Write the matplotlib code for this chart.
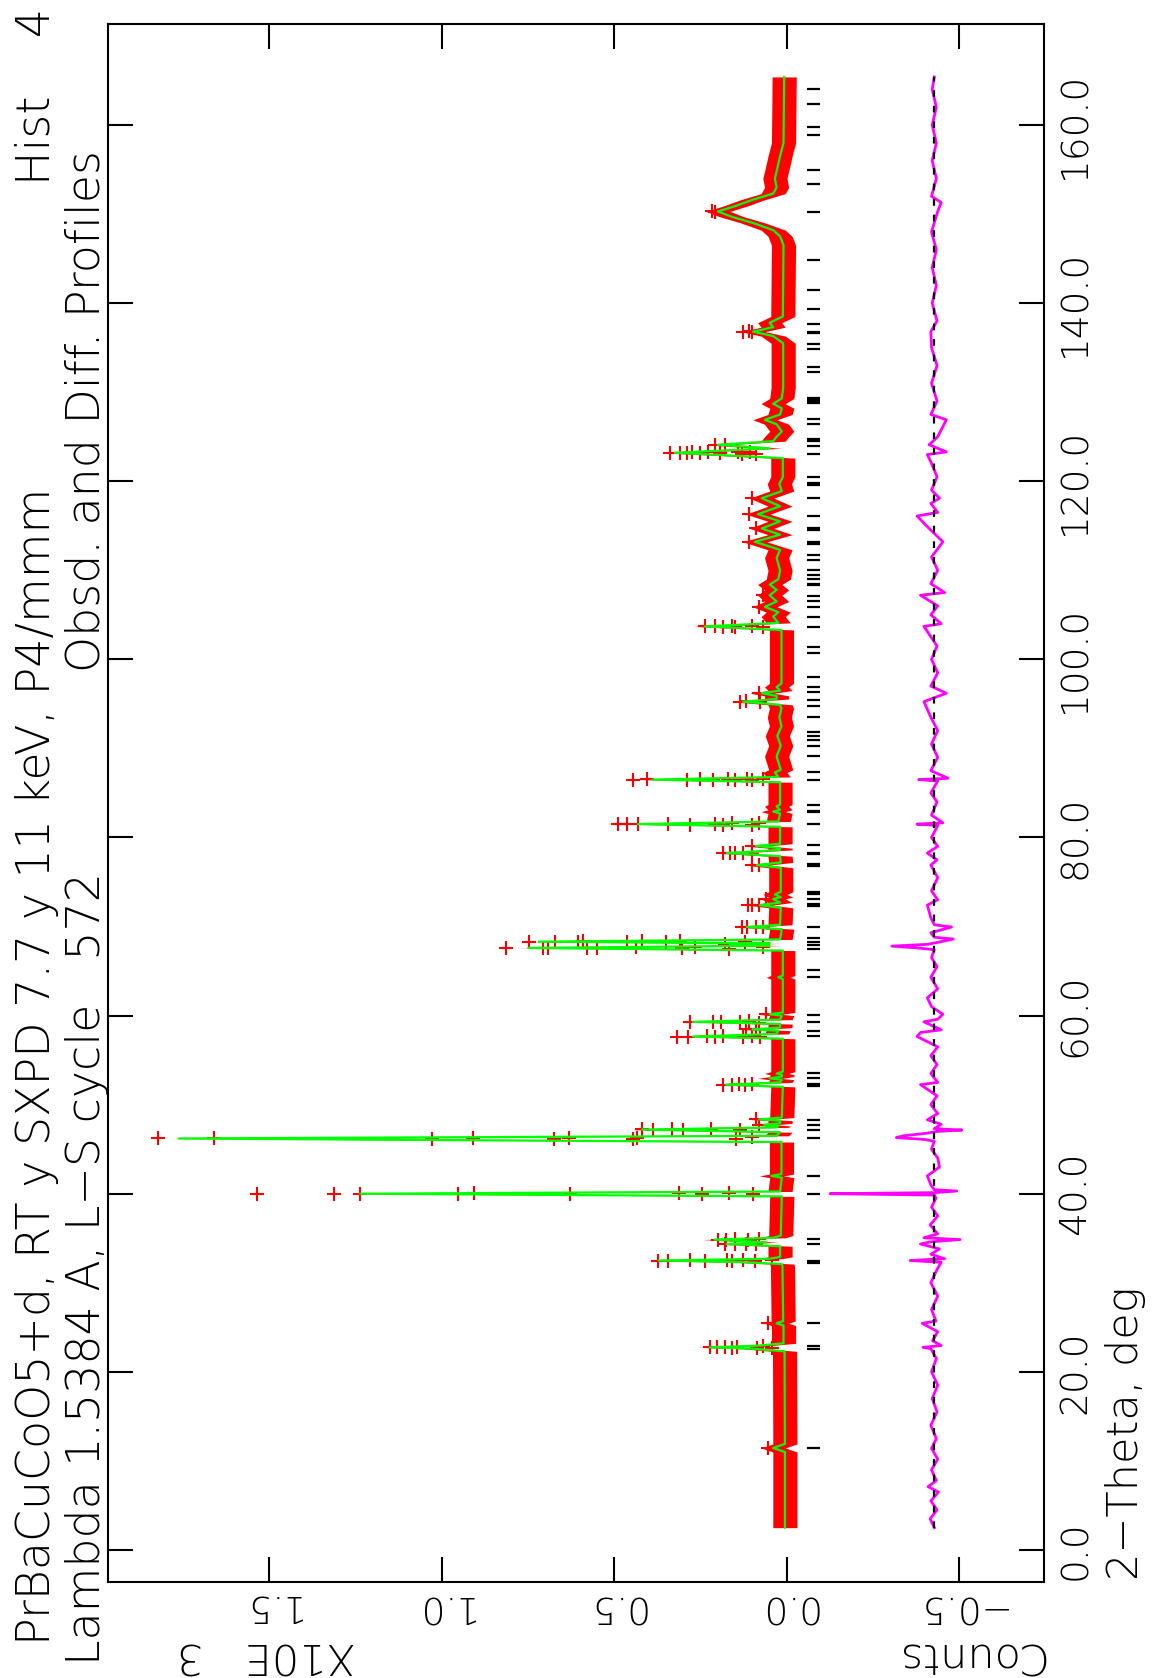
import matplotlib
matplotlib.use("Agg")
import matplotlib.pyplot as plt
import numpy as np

# ---------------- data (2-theta in deg, counts in units of 10^3) ----------------
calc_theta = [2.5, 11.0, 11.45, 11.9, 22.3, 22.6, 22.75, 22.95, 23.2, 25.2, 25.45, 25.7,
              31.9, 32.1, 32.3, 32.5, 32.7, 32.9, 34.1, 34.35, 34.55, 34.85, 35.05, 35.3,
              39.7, 40.0, 40.25, 41.8, 42.0, 42.2, 45.8, 46.2, 46.5, 46.9, 47.2, 47.45,
              47.6, 47.75, 47.9, 48.2, 48.35, 48.55, 52.0, 52.25, 52.5, 52.8, 52.95, 53.15,
              53.35, 53.5, 53.7, 57.4, 57.65, 57.95, 58.3, 58.45, 58.65, 59.05, 59.3, 59.55,
              60.0, 60.15, 60.35, 64.1, 64.3, 64.5, 67.3, 67.6, 67.85, 68.0, 68.1, 68.3,
              68.55, 69.7, 69.95, 70.2, 72.1, 72.4, 72.7, 73.1, 73.3, 73.6, 73.9, 76.6,
              76.9, 77.2, 77.9, 78.25, 78.6, 78.8, 79.05, 79.3, 81.2, 81.5, 81.8, 82.7,
              82.9, 83.1, 83.5, 83.7, 86.2, 86.5, 86.8, 87.3, 87.6, 89.1, 90.3, 91.4,
              92.5, 93.5, 94.5, 94.9, 95.25, 95.55, 95.9, 96.2, 96.5, 96.9, 97.3, 103.3,
              103.7, 104.1, 104.8, 105.3, 105.9, 106.5, 107.2, 107.8, 108.4, 109.0, 110.0, 111.4,
              112.3, 113.2, 114.0, 114.7, 115.5, 116.3, 117.2, 118.1, 118.9, 119.7, 120.5, 122.6,
              123.2, 123.7, 124.1, 124.5, 125.0, 125.6, 126.4, 126.9, 127.5, 128.2, 128.7, 129.3,
              130.5, 135.5, 136.3, 136.8, 137.3, 137.8, 138.5, 146.5, 147.5, 148.2, 149.0, 149.7,
              150.3, 150.9, 151.6, 152.3, 153.0, 154.0, 154.8, 156.5, 158.0, 165.4]
calc_counts = [0.006, 0.006, 0.040, 0.006, 0.007, 0.10, 0.223, 0.08, 0.010, 0.010, 0.030, 0.011,
               0.013, 0.015, 0.12, 0.372, 0.05, 0.02, 0.02, 0.175, 0.06, 0.21, 0.04, 0.018,
               0.015, 1.237, 0.02, 0.015, 0.045, 0.016, 0.016, 1.763, 0.03, 0.02, 0.42, 0.03,
               0.025, 0.066, 0.02, 0.02, 0.08, 0.015, 0.012, 0.177, 0.02, 0.015, 0.05, 0.015,
               0.014, 0.03, 0.012, 0.012, 0.272, 0.03, 0.025, 0.10, 0.02, 0.02, 0.272, 0.02,
               0.015, 0.05, 0.012, 0.012, 0.025, 0.012, 0.012, 0.75, 0.05, 0.165, 0.05, 0.72,
               0.02, 0.015, 0.116, 0.02, 0.018, 0.078, 0.02, 0.04, 0.018, 0.035, 0.018, 0.018,
               0.087, 0.018, 0.02, 0.174, 0.02, 0.02, 0.09, 0.02, 0.02, 0.432, 0.025, 0.02,
               0.04, 0.02, 0.03, 0.02, 0.02, 0.39, 0.025, 0.035, 0.018, 0.03, 0.018, 0.028,
               0.016, 0.022, 0.016, 0.02, 0.127, 0.03, 0.03, 0.073, 0.02, 0.03, 0.016, 0.016,
               0.238, 0.025, 0.04, 0.025, 0.064, 0.03, 0.05, 0.03, 0.05, 0.025, 0.02, 0.03,
               0.02, 0.093, 0.02, 0.073, 0.02, 0.084, 0.02, 0.073, 0.015, 0.022, 0.012, 0.012,
               0.325, 0.05, 0.20, 0.04, 0.03, 0.015, 0.03, 0.064, 0.02, 0.015, 0.04, 0.015,
               0.011, 0.011, 0.04, 0.098, 0.04, 0.05, 0.012, 0.01, 0.02, 0.04, 0.098, 0.16,
               0.20, 0.15, 0.10, 0.04, 0.03, 0.035, 0.03, 0.02, 0.01, 0.008]

obs_theta = [11.45, 25.45,
             22.8, 22.78, 22.76, 22.72, 22.84, 22.7, 22.88, 22.65,
             32.5, 32.48, 32.52, 32.45, 32.55, 32.42, 32.58, 32.4, 32.6,
             34.85, 34.83, 34.88, 34.8, 34.9, 34.35, 34.38, 34.32, 34.4,
             40.0, 40.02, 40.0, 39.98, 40.03, 39.97, 40.05, 39.95, 40.08, 39.92,
             46.23, 46.2, 46.18, 46.25, 46.15, 46.27, 46.12, 46.3, 46.1, 46.35,
             47.22, 47.2, 47.25, 47.18, 47.28, 47.15, 47.75, 48.35,
             52.25, 52.22, 52.28, 52.2, 52.3,
             57.65, 57.62, 57.68, 57.6, 57.7, 57.58, 57.72, 57.55, 58.45, 58.5,
             59.3, 59.28, 59.33, 59.25, 59.36, 59.22, 60.15,
             67.6, 67.62, 67.58, 67.64, 67.56, 67.66, 67.54, 67.68, 67.52, 67.7, 68.0,
             68.3, 68.32, 68.28, 68.34, 68.26, 68.36, 68.24, 68.38, 68.22,
             69.95, 69.97, 69.92, 70.0, 72.4, 72.43, 72.37, 73.1, 76.9, 76.93,
             78.25, 78.27, 78.22, 78.3, 78.2, 79.05,
             81.5, 81.52, 81.48, 81.55, 81.45, 81.57, 81.43, 81.6, 81.4, 81.62,
             86.5, 86.52, 86.48, 86.55, 86.45, 86.57, 86.43, 86.6, 86.4, 86.62,
             95.25, 95.28, 95.22, 96.2,
             103.7, 103.72, 103.68, 103.75, 103.65, 103.78, 103.62, 105.9, 107.2,
             113.2, 114.7, 116.3, 118.1,
             123.2, 123.22, 123.18, 123.25, 123.15, 123.28, 123.12, 123.3, 123.1, 123.33, 123.06,
             124.1, 124.12, 136.8, 136.83, 136.77, 150.3, 150.2]
obs_counts = [0.055, 0.055,
              0.223, 0.203, 0.18, 0.159, 0.145, 0.087, 0.07, 0.044,
              0.374, 0.345, 0.281, 0.238, 0.174, 0.16, 0.128, 0.093, 0.044,
              0.20, 0.177, 0.15, 0.113, 0.08, 0.18, 0.15, 0.12, 0.09,
              1.536, 1.313, 1.237, 0.953, 0.907, 0.63, 0.314, 0.246, 0.168, 0.098,
              1.823, 1.66, 1.028, 0.911, 0.675, 0.632, 0.446, 0.435, 0.148, 0.10,
              0.42, 0.388, 0.333, 0.30, 0.22, 0.136, 0.08, 0.09,
              0.184, 0.16, 0.14, 0.122, 0.10,
              0.32, 0.287, 0.232, 0.21, 0.186, 0.128, 0.101, 0.078, 0.12, 0.09,
              0.28, 0.214, 0.19, 0.136, 0.11, 0.08, 0.06,
              0.814, 0.707, 0.693, 0.58, 0.551, 0.438, 0.304, 0.267, 0.168, 0.07, 0.18,
              0.748, 0.672, 0.606, 0.591, 0.464, 0.42, 0.35, 0.31, 0.122,
              0.13, 0.115, 0.09, 0.07, 0.113, 0.10, 0.08, 0.06, 0.10, 0.08,
              0.185, 0.165, 0.15, 0.128, 0.10, 0.10,
              0.49, 0.465, 0.432, 0.345, 0.281, 0.209, 0.185, 0.159, 0.101, 0.08,
              0.446, 0.406, 0.29, 0.252, 0.214, 0.171, 0.15, 0.116, 0.10, 0.07,
              0.136, 0.12, 0.078, 0.08,
              0.238, 0.21, 0.186, 0.16, 0.15, 0.10, 0.07, 0.08, 0.07,
              0.11, 0.09, 0.11, 0.10,
              0.339, 0.31, 0.29, 0.275, 0.252, 0.229, 0.194, 0.142, 0.13, 0.107, 0.09,
              0.21, 0.18, 0.127, 0.11, 0.10, 0.218, 0.21]

diff_theta = [2.5, 3.5, 4.5, 5.5, 6.5, 7.1, 7.8, 9.0, 10.2, 11.4, 12.5, 14.0, 15.5, 17.0, 18.5,
              20.0, 21.5, 22.6, 22.75, 22.95, 23.5, 24.5, 25.45, 25.7, 27.0, 28.5, 30.0, 31.5,
              32.3, 32.5, 32.7, 33.2, 33.8, 34.35, 34.6, 34.85, 35.05, 35.5, 36.5, 37.5, 38.5,
              39.5, 39.85, 40.0, 40.12, 40.3, 40.45, 41.0, 42.0, 43.0, 44.0, 45.0, 45.9, 46.1,
              46.3, 46.5, 46.8, 47.0, 47.15, 47.3, 47.8, 48.3, 49.0, 50.0, 51.0, 52.25, 52.5,
              53.5, 54.5, 55.5, 56.5, 57.65, 58.1, 58.4, 59.3, 59.6, 60.15, 61.0, 62.0, 63.0,
              64.3, 65.5, 66.5, 67.4, 67.6, 67.8, 68.0, 68.3, 68.6, 68.8, 69.3, 69.95, 70.2,
              71.0, 72.4, 73.0, 74.0, 75.5, 76.9, 77.5, 78.25, 79.0, 80.0, 81.35, 81.5, 81.65,
              82.5, 84.0, 85.0, 86.35, 86.5, 86.65, 87.5, 89.0, 90.5, 92.0, 93.5, 95.25, 96.2,
              97.0, 98.5, 100.0, 101.5, 103.7, 104.0, 105.0, 106.0, 107.2, 107.5, 108.5, 110.0,
              111.5, 113.2, 114.7, 116.1, 116.5, 117.5, 118.1, 119.0, 120.5, 122.0, 123.0, 123.3,
              124.1, 125.0, 126.9, 127.5, 129.0, 131.0, 133.0, 135.0, 136.8, 138.0, 140.0, 142.0,
              144.0, 146.0, 148.0, 150.3, 151.3, 152.0, 154.0, 156.0, 158.0, 160.0, 162.0, 164.0,
              165.4]
diff_counts = [0.0, 0.012, -0.008, 0.01, -0.012, 0.018, -0.006, 0.008, -0.01, 0.008, -0.006, 0.01,
               -0.008, 0.006, -0.01, 0.008, -0.006, 0.01, 0.033, -0.02, 0.005, -0.01, 0.035, -0.005,
               0.008, -0.01, 0.01, -0.008, -0.02, 0.07, -0.03, 0.01, -0.015, 0.04, 0.01, -0.075,
               0.03, -0.01, 0.012, -0.01, 0.008, -0.005, 0.0, 0.302, 0.0, -0.065, 0.0, 0.01, 0.02,
               -0.015, -0.01, 0.008, 0.0, 0.03, 0.11, 0.09, 0.02, -0.01, -0.08, 0.0, -0.02, 0.02,
               -0.01, 0.01, -0.008, 0.04, -0.01, 0.01, -0.008, 0.01, -0.01, 0.05, 0.04, -0.02, 0.03,
               -0.01, -0.025, 0.008, 0.02, -0.01, 0.01, -0.008, 0.008, 0.0, 0.05, 0.123, 0.02,
               -0.02, -0.055, 0.0, 0.01, -0.05, 0.0, 0.01, 0.02, -0.01, 0.008, -0.01, 0.01, -0.008,
               0.02, -0.01, 0.008, -0.01, 0.05, -0.025, 0.008, -0.008, 0.01, -0.01, 0.045, -0.04,
               0.01, -0.01, 0.008, -0.01, 0.01, 0.03, -0.035, 0.01, -0.01, 0.008, -0.008, 0.03,
               -0.02, 0.01, -0.01, 0.04, -0.03, 0.01, -0.01, 0.008, -0.025, 0.015, 0.05, -0.01,
               0.01, -0.015, 0.008, -0.008, 0.008, 0.02, -0.035, 0.015, -0.01, -0.035, 0.01,
               -0.008, 0.008, -0.008, 0.008, 0.01, -0.008, 0.006, -0.006, 0.006, -0.006, 0.008,
               -0.01, -0.02, 0.008, -0.006, 0.006, -0.006, 0.006, -0.006, 0.006, 0.0]

refl_theta = [11.4, 22.6, 22.9, 25.5, 32.2, 32.45, 34.35, 34.9, 40.0, 42.0, 46.2, 47.2, 47.7,
              48.3, 52.15, 52.3, 53.0, 53.5, 57.7, 58.3, 59.3, 60.1, 64.3, 65.1, 67.5, 67.9,
              68.3, 68.7, 69.9, 72.35, 72.5, 73.1, 73.6, 73.9, 76.85, 77.0, 78.1, 78.3, 79.1,
              81.5, 82.85, 83.0, 83.6, 86.5, 87.3, 89.1, 90.3, 91.0, 91.4, 91.9, 93.5, 94.8,
              95.4, 96.3, 96.9, 98.0, 100.7, 101.4, 103.6, 104.8, 105.9, 106.6, 107.1, 108.3,
              108.5, 109.0, 109.5, 110.0, 111.2, 111.7, 113.0, 113.2, 114.5, 114.7, 116.1, 118.1,
              119.6, 119.8, 120.5, 123.1, 124.0, 124.5, 124.8, 126.4, 127.0, 128.8, 129.0, 129.2,
              129.4, 132.3, 132.8, 134.9, 135.4, 136.6, 136.8, 137.7, 139.3, 141.5, 144.8, 150.2,
              153.4, 154.9, 158.9, 159.8, 162.4, 164.0]

theta_ticks = [0, 20, 40, 60, 80, 100, 120, 140, 160]
theta_labels = ["0.0", "20.0", "40.0", "60.0", "80.0", "100.0", "120.0", "140.0", "160.0"]
count_ticks = [-0.5, 0.0, 0.5, 1.0, 1.5]
count_labels = ["\u22120.5", "0.0", "0.5", "1.0", "1.5"]

DIFF_OFFSET = -0.427
NOISE = 0.035
REFL_RANGE = (-0.058, -0.096)

# ---------------- figure ----------------
W, H = 1152, 1678
plt.rcParams["font.family"] = ["DejaVu Sans"]
plt.rcParams["font.weight"] = "light"
fig = plt.figure(figsize=(W / 100, H / 100), dpi=100)


def fx(x):
    return x / W


def fy(y):
    return 1 - y / H


ax = fig.add_axes([fx(108), fy(1582), (1044 - 108) / W, (1582 - 23.5) / H])
ax.set_xlim(1.968, -0.745)
ax.set_ylim(-3.6, 171.4)

ct = np.array(calc_theta)
cc = np.array(calc_counts)
ax.fill_betweenx(ct, cc - NOISE, cc + NOISE, color="#ff0000", lw=0, zorder=2)
ax.plot(obs_counts, obs_theta, "+", color="#ff0000", ms=10, mew=1.5, zorder=3)
ax.plot(cc, ct, color="#00ff00", lw=1.6, zorder=4)

ax.hlines(refl_theta, REFL_RANGE[0], REFL_RANGE[1], color="black", lw=1.6, zorder=3)

ax.plot(np.array(diff_counts) + DIFF_OFFSET, diff_theta, color="#ff00ff", lw=2.0, zorder=3)
ax.vlines(DIFF_OFFSET, min(diff_theta), max(diff_theta), color="black", lw=1.6,
          linestyles=(0, (3, 4)), zorder=4)

ax.set_yticks(theta_ticks, theta_labels)
ax.set_xticks(count_ticks, count_labels)
ax.tick_params(direction="in", length=18, width=1.5, top=True, bottom=True, left=True,
               right=True, labelleft=False, labelright=True, labeltop=False, labelbottom=True)
ax.tick_params(axis="y", labelrotation=90, pad=10, labelsize=27)
ax.tick_params(axis="x", labelrotation=180, pad=5, labelsize=27)
for lab in ax.get_yticklabels():
    lab.set_va("center")
for sp in ax.spines.values():
    sp.set_linewidth(1.5)

tkw = dict(fontsize=33, rotation=90, rotation_mode="anchor", va="baseline")
fig.text(fx(50), fy(1645), "PrBaCuCoO5+d, RT y SXPD 7.7 y 11 keV, P4/mmm", ha="left", **tkw)
fig.text(fx(50), fy(8), "Hist    4", ha="right", **tkw)
fig.text(fx(100), fy(1665), "Lambda 1.5384 A, L\u2212S cycle   572", ha="left", **tkw)
fig.text(fx(100), fy(150), "Obsd. and Diff. Profiles", ha="right", **tkw)
fig.text(fx(1138), fy(1580), "2\u2212Theta, deg", ha="left", fontsize=31, rotation=90,
         rotation_mode="anchor", va="baseline")

bkw = dict(fontsize=31, rotation=180, rotation_mode="anchor", va="baseline", ha="left")
fig.text(fx(356), fy(1643), "X10E   3", **bkw)
fig.text(fx(1043), fy(1643), "Counts", **bkw)

fig.savefig("out.png", dpi=100)
